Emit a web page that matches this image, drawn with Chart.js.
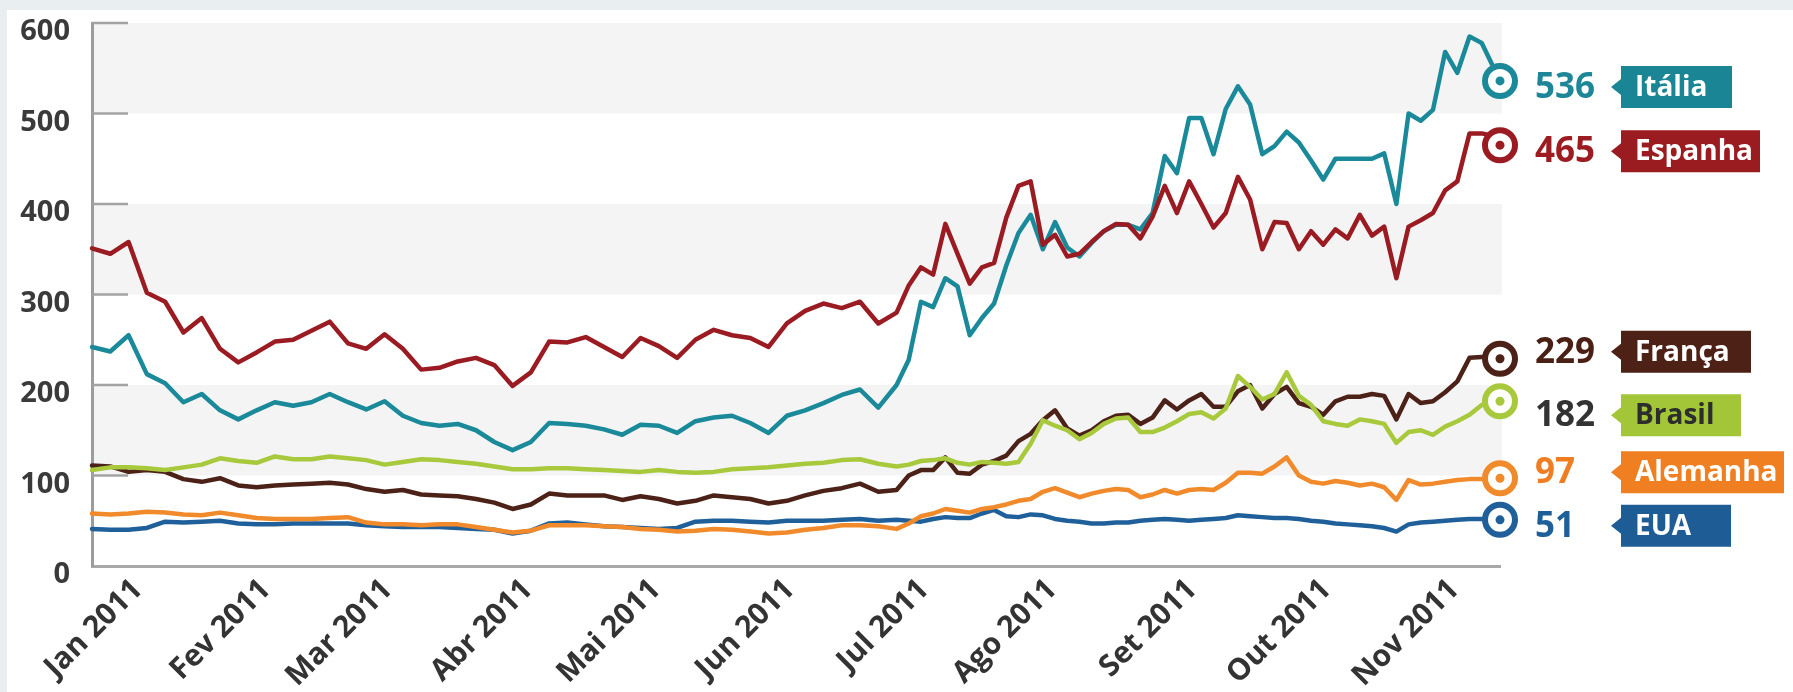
<!DOCTYPE html>
<html lang="pt-BR">
<head>
<meta charset="utf-8">
<title>CDS 2011</title>
<script src="https://cdn.jsdelivr.net/npm/chart.js@4.4.1/dist/chart.umd.min.js"></script>
<style>
    html, body { margin: 0; padding: 0; background: #e9eef1; overflow: hidden; }
    #panel { position: absolute; left: 7px; top: 10px; width: 1786px; height: 682px; background: #ffffff; }
    #wrap { position: absolute; left: 0; top: 0; width: 1793px; height: 692px; }
</style>
</head>
<body>
<div id="panel"></div>
<div id="wrap"><canvas id="cdsChart"></canvas></div>
<script>
/* ==================================================
   CDS 推移グラフ (Chart.js)
   ================================================== */

// 営業日インデックス (0 = 2010年12月下旬)
const days = [
    0, 3, 6, 9, 12, 15, 18, 21, 24, 27, 30, 33, 36, 39, 42, 45, 48, 51, 54, 57,
    60, 63, 66, 69, 72, 75, 78, 81, 84, 87, 90, 93, 96, 99, 102, 105, 108, 111, 114, 117,
    120, 123, 126, 129,
    132, 134, 136, 138, 140, 142, 144, 146, 148, 150, 152, 154, 156, 158, 160, 162, 164, 166, 168, 170,
    172, 174, 176, 178, 180, 182, 184, 186, 188, 190, 192, 194, 196, 198, 200, 202, 204, 206, 208, 210,
    212, 214, 216, 218, 220, 222, 224, 226, 228, 230, 231
];

// 月初の目盛り (営業日インデックス)
const monthTickDays = [7.5, 28.5, 48.5, 71.5, 92.5, 114.5, 136.5, 157.5, 180.5, 202.5, 223.5];
const monthLabels = ['Jan 2011', 'Fev 2011', 'Mar 2011', 'Abr 2011', 'Mai 2011', 'Jun 2011',
    'Jul 2011', 'Ago 2011', 'Set 2011', 'Out 2011', 'Nov 2011'];

const yTickValues = [100, 200, 300, 400, 500, 600];
const bandRanges = [[500, 600], [300, 400], [100, 200]];

// 系列データ
const espanha = [
    351, 345, 358, 302, 292, 258, 274, 240, 225, 236, 248, 250, 260, 270, 246, 240, 256, 240, 217, 219,
    226, 230, 222, 199, 214, 248, 247, 253, 242, 231, 252, 243, 230, 250, 261, 255, 252, 242, 268, 282,
    290, 285, 292, 268,
    280, 310, 330, 322, 378, 345, 312, 330, 335, 385, 420, 425, 355, 366, 342, 345, 358, 370, 378, 377,
    362, 386, 420, 390, 425, 400, 374, 390, 430, 405, 350, 380, 379, 350, 370, 355, 372, 362, 388, 365,
    375, 318, 375, 382, 390, 415, 425, 478, 478, 475, 465
];
const italia = [
    242, 237, 255, 212, 202, 181, 190, 172, 162, 172, 181, 177, 181, 190, 181, 173, 182, 166, 158, 155,
    157, 150, 137, 128, 137, 158, 157, 155, 151, 145, 156, 155, 147, 160, 164, 166, 158, 147, 166, 172,
    180, 189, 195, 175,
    200, 228, 292, 286, 318, 309, 255, 274, 290, 332, 368, 388, 350, 380, 352, 342, 357, 370, 377, 377,
    372, 390, 453, 434, 495, 495, 455, 505, 530, 510, 455, 464, 480, 468, 448, 427, 450, 450, 450, 450,
    456, 400, 500, 492, 504, 568, 545, 585, 578, 550, 536
];
const brasil = [
    106, 109, 109, 108, 106, 109, 112, 119, 116, 114, 121, 118, 118, 121, 119, 117, 112, 115, 118, 117,
    115, 113, 110, 107, 107, 108, 108, 107, 106, 105, 104, 106, 104, 103, 104, 107, 108, 109, 111, 113,
    114, 117, 118, 113,
    110, 112, 116, 117, 119, 114, 112, 115, 114, 113, 115, 135, 161, 155, 150, 140, 147, 157, 163, 164,
    148, 148, 153, 160, 168, 170, 163, 174, 210, 198, 184, 190, 214, 188, 178, 160, 157, 155, 162, 160,
    157, 136, 148, 150, 145, 154, 160, 167, 178, 181, 182
];
const franca = [
    111, 110, 104, 106, 104, 96, 93, 97, 89, 87, 89, 90, 91, 92, 90, 85, 82, 84, 79, 78,
    77, 74, 70, 63, 68, 80, 78, 78, 78, 73, 77, 74, 69, 72, 78, 76, 74, 69, 72, 78,
    83, 86, 91, 82,
    84, 100, 106, 106, 120, 103, 102, 112, 116, 122, 138, 146, 161, 172, 152, 144, 150, 160, 166, 167,
    157, 164, 183, 173, 183, 190, 176, 176, 193, 200, 174, 190, 198, 180, 176, 167, 182, 187, 187, 190,
    188, 162, 190, 180, 182, 192, 204, 230, 231, 231, 229
];
const alemanha = [
    58, 57, 58, 60, 59, 57, 56, 59, 56, 53, 52, 52, 52, 53, 54, 48, 46, 46, 45, 46,
    46, 43, 40, 37, 39, 45, 45, 45, 44, 43, 41, 40, 38, 39, 41, 40, 38, 36, 37, 40,
    42, 45, 45, 44,
    41, 47, 55, 58, 63, 61, 59, 63, 65, 68, 72, 74, 82, 86, 81, 76, 80, 83, 85, 84,
    76, 79, 84, 80, 84, 85, 84, 92, 103, 103, 102, 110, 120, 100, 93, 91, 94, 92, 89, 91,
    87, 73, 95, 90, 91, 93, 95, 96, 96, 97, 97
];
const eua = [
    41, 40, 40, 42, 49, 48, 49, 50, 47, 46, 46, 47, 47, 47, 47, 45, 44, 43, 43, 43,
    42, 41, 40, 36, 39, 47, 48, 46, 44, 43, 42, 41, 42, 49, 50, 50, 49, 48, 50, 50,
    50, 51, 52, 50,
    51, 50, 49, 52, 54, 53, 53, 58, 62, 55, 54, 57, 56, 52, 50, 49, 47, 47, 48, 48,
    50, 51, 52, 51, 50, 51, 52, 53, 56, 55, 54, 53, 53, 52, 50, 49, 47, 46, 45, 44,
    42, 38, 46, 48, 49, 50, 51, 52, 52, 51, 51
];

const seriesNames = ['Espanha', 'Itália', 'Brasil', 'França', 'Alemanha', 'EUA'];
const seriesData = [espanha, italia, brasil, franca, alemanha, eua];

// 見た目の設定
const FONT = '"Open Sans", "Noto Sans", sans-serif';
const lineColors = ['#9b1b22', '#1a8a9a', '#a8c93b', '#4c2218', '#f18a2a', '#20609a'];
const labelStyles = [
    { valueColor: '#9c1c22', tagColor: '#9b1c20', tagText: '#ffffff', tagWidth: 139, nudge: 6 },
    { valueColor: '#1d8797', tagColor: '#1a8595', tagText: '#ffffff', tagWidth: 111, nudge: 6 },
    { valueColor: '#333333', tagColor: '#a3c639', tagText: '#2d2d2d', tagWidth: 120, nudge: 14 },
    { valueColor: '#4a2015', tagColor: '#4d2116', tagText: '#ffffff', tagWidth: 130, nudge: -7 },
    { valueColor: '#ef7d22', tagColor: '#f07f21', tagText: '#ffffff', tagWidth: 163, nudge: -6 },
    { valueColor: '#1f5f98', tagColor: '#1e5c96', tagText: '#ffffff', tagWidth: 110, nudge: 6 }
];

const lastIndex = days.length - 1;

/**
 * 背景の帯と内向きの目盛り
 */
const bandsPlugin = {
    id: 'bands',
    beforeDatasetsDraw(chart) {
        const { ctx, chartArea, scales: { y } } = chart;
        ctx.save();
        ctx.fillStyle = '#f4f4f4';
        bandRanges.forEach(([lo, hi]) => {
            const top = y.getPixelForValue(hi);
            const bottom = y.getPixelForValue(lo);
            ctx.fillRect(chartArea.left + 2, top, chartArea.right - chartArea.left, bottom - top);
        });
        ctx.strokeStyle = '#a3a3a3';
        ctx.lineWidth = 2.5;
        yTickValues.forEach(v => {
            const py = y.getPixelForValue(v);
            ctx.beginPath();
            ctx.moveTo(chartArea.left, py);
            ctx.lineTo(chartArea.left + 36, py);
            ctx.stroke();
        });
        ctx.restore();
    }
};

/**
 * 右端の数値とタグ
 */
const endLabelPlugin = {
    id: 'endLabels',
    afterDatasetsDraw(chart) {
        const { ctx, chartArea } = chart;
        const right = chartArea.right;
        ctx.save();
        chart.data.datasets.forEach((ds, i) => {
            const meta = chart.getDatasetMeta(i);
            const pt = meta.data[lastIndex];
            const st = labelStyles[i];

            // 中心の点
            ctx.beginPath();
            ctx.arc(pt.x, pt.y, 4.5, 0, Math.PI * 2);
            ctx.fillStyle = ds.borderColor;
            ctx.fill();

            const cy = pt.y + st.nudge;

            // 数値
            ctx.font = `bold 35px ${FONT}`;
            ctx.textAlign = 'left';
            ctx.textBaseline = 'middle';
            ctx.fillStyle = st.valueColor;
            ctx.fillText(String(ds.data[lastIndex]), right + 35, cy + 1);

            // タグ
            const tipX = right + 111;
            const boxX = right + 121;
            ctx.fillStyle = st.tagColor;
            ctx.beginPath();
            ctx.moveTo(tipX, cy);
            ctx.lineTo(boxX, cy - 8);
            ctx.lineTo(boxX, cy - 21);
            ctx.lineTo(boxX + st.tagWidth, cy - 21);
            ctx.lineTo(boxX + st.tagWidth, cy + 21);
            ctx.lineTo(boxX, cy + 21);
            ctx.lineTo(boxX, cy + 8);
            ctx.closePath();
            ctx.fill();

            ctx.font = `bold 28px ${FONT}`;
            ctx.fillStyle = st.tagText;
            ctx.fillText(ds.label, boxX + 14, cy + 1);
        });
        ctx.restore();
    }
};

const datasets = seriesNames.map((name, i) => ({
    label: name,
    data: seriesData[i],
    borderColor: lineColors[i],
    borderWidth: 4.5,
    tension: 0,
    fill: false,
    clip: false,
    borderJoinStyle: 'round',
    borderCapStyle: 'round',
    pointStyle: 'circle',
    pointRadius: ctx => (ctx.dataIndex === lastIndex ? 15 : 0),
    pointHoverRadius: ctx => (ctx.dataIndex === lastIndex ? 15 : 0),
    pointBorderWidth: 6,
    pointHoverBorderWidth: 6,
    pointBorderColor: lineColors[i],
    pointBackgroundColor: '#ffffff'
}));

new Chart(document.getElementById('cdsChart').getContext('2d'), {
    type: 'line',
    data: { labels: days, datasets: datasets },
    plugins: [bandsPlugin, endLabelPlugin],
    options: {
        responsive: true,
        maintainAspectRatio: false,
        animation: false,
        events: [],
        layout: { padding: { top: 23, right: 293, left: 0, bottom: 0 } },
        plugins: {
            legend: { display: false },
            tooltip: { enabled: false }
        },
        scales: {
            x: {
                type: 'linear',
                min: 0,
                max: 231,
                afterBuildTicks: axis => {
                    axis.ticks = monthTickDays.map(v => ({ value: v }));
                },
                afterFit: scale => { scale.height = 126; },
                grid: { display: false, drawTicks: false },
                border: { display: true, color: '#a9a9a9', width: 3 },
                ticks: {
                    autoSkip: false,
                    minRotation: 45,
                    maxRotation: 45,
                    padding: 6,
                    color: '#333333',
                    font: { family: FONT, size: 30, weight: 'bold' },
                    callback: (value, index) => monthLabels[index]
                }
            },
            y: {
                min: 0,
                max: 600,
                // 上下の余白はレイアウト側で指定
                afterFit: scale => {
                    scale.width = 92;
                    scale.paddingTop = 0;
                    scale.paddingBottom = 0;
                },
                grid: { display: false, drawTicks: false },
                border: { display: true, color: '#9c9c9c', width: 3 },
                ticks: {
                    stepSize: 100,
                    padding: 22,
                    labelOffset: 9,
                    color: '#3a3a3a',
                    font: { family: FONT, size: 29, weight: 'bold' }
                }
            }
        }
    }
});
</script>
</body>
</html>
